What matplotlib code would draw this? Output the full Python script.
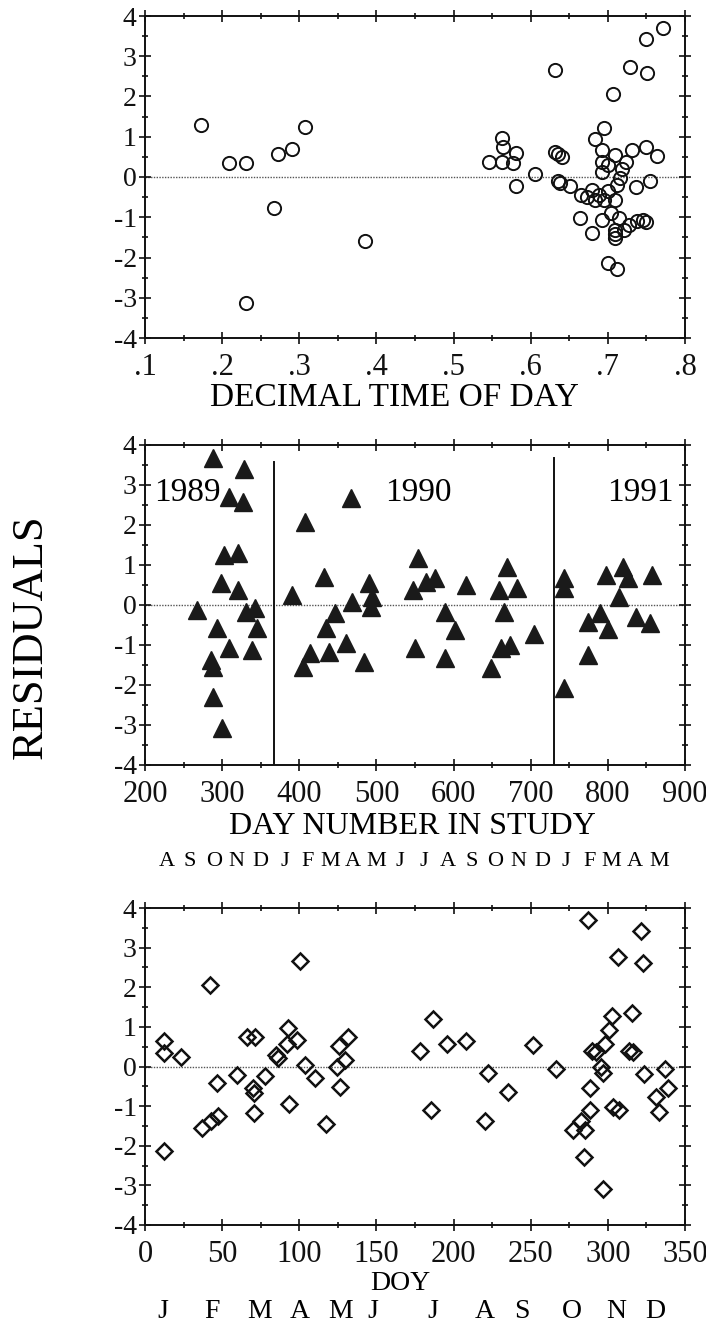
import matplotlib
matplotlib.use('Agg')
import matplotlib.pyplot as plt
from matplotlib.ticker import MultipleLocator

plt.rcParams['font.family'] = ['Liberation Serif', 'DejaVu Serif']
plt.rcParams['axes.unicode_minus'] = False

# ---- panel 1: residuals vs decimal time of day
time_x = [0.173, 0.209, 0.231, 0.231, 0.267, 0.273, 0.291, 0.307, 0.385,
          0.546, 0.563, 0.564, 0.563, 0.581, 0.577, 0.581, 0.605,
          0.631, 0.631, 0.635, 0.641, 0.635, 0.638, 0.651, 0.664, 0.665,
          0.673, 0.680, 0.683, 0.680, 0.683, 0.692, 0.692, 0.692, 0.692,
          0.695, 0.695, 0.700, 0.700, 0.704, 0.707, 0.709, 0.709, 0.709,
          0.709, 0.709, 0.712, 0.714, 0.716, 0.712, 0.718, 0.721, 0.724,
          0.728, 0.729, 0.731, 0.736, 0.738, 0.745, 0.750, 0.750, 0.750,
          0.751, 0.755, 0.764, 0.772, 0.700, 0.688]
time_res = [1.30, 0.36, 0.36, -3.14, -0.78, 0.57, 0.70, 1.25, -1.58,
            0.38, 0.96, 0.75, 0.38, 0.59, 0.36, -0.22, 0.07,
            2.66, 0.63, 0.57, 0.50, -0.10, -0.16, -0.22, -1.02, -0.45,
            -0.50, -0.32, -0.57, -1.39, 0.94, 0.67, 0.38, 0.12, -1.07,
            -0.57, 1.22, -2.14, -0.36, -0.90, 2.05, 0.55, -0.57, -1.32,
            -1.42, -1.52, -2.29, -1.03, -0.03, -0.20, 0.20, -1.32, 0.38,
            -1.20, 2.74, 0.67, -0.24, -1.10, -1.07, -1.12, 0.75, 3.42,
            2.59, -0.10, 0.53, 3.69, 0.30, -0.45]
time_ticks = [0.1, 0.2, 0.3, 0.4, 0.5, 0.6, 0.7, 0.8]
time_labels = ['.1', '.2', '.3', '.4', '.5', '.6', '.7', '.8']

# ---- panel 2: residuals vs day number in study
day_x = [288.7, 328, 309, 326.8, 301.9, 320.2, 298.3, 320.2, 267.8, 331,
         342, 345.5, 293, 309, 339, 285, 288.7, 288.7, 299.6,
         390, 407.5, 431.6, 466.5, 490.6, 494, 492.7, 468.7, 446, 435,
         460, 438, 414, 405.4, 484, 554, 547.5, 564.8, 575.8, 616.5, 589,
         602, 550.4, 589, 669, 658.8, 682.8, 665.4, 703.8, 661, 673.2, 648,
         743, 743, 743, 774, 774, 790, 800, 798, 820, 826, 815, 836, 855, 857]
day_res = [3.67, 3.39, 2.71, 2.58, 1.25, 1.29, 0.54, 0.38, -0.13, -0.17,
           -0.08, -0.58, -0.58, -1.08, -1.13, -1.38, -1.54, -2.29, -3.08,
           0.25, 2.08, 0.71, 2.67, 0.54, 0.21, -0.04, 0.08, -0.21, -0.58,
           -0.96, -1.17, -1.21, -1.54, -1.42, 1.17, 0.38, 0.58, 0.67, 0.50, -0.17,
           -0.63, -1.08, -1.33, 0.96, 0.38, 0.42, -0.17, -0.73, -1.08, -1.00, -1.58,
           0.67, 0.42, -2.08, -0.42, -1.25, -0.21, -0.61, 0.75, 0.96, 0.67, 0.21,
           -0.29, -0.46, 0.75]
year_breaks = [367, 730]
year_names = ['1989', '1990', '1991']
year_x = [255, 554, 842]
study_months = ['A', 'S', 'O', 'N', 'D', 'J', 'F', 'M', 'A', 'M', 'J',
                'J', 'A', 'S', 'O', 'N', 'D', 'J', 'F', 'M', 'A', 'M']
study_month_days = [228, 258, 289, 319, 350, 381, 411, 440, 470, 500, 531,
                    561, 593, 623, 654, 684, 715, 746, 776, 805, 835, 866]

# ---- panel 3: residuals vs day of year
doy_x = [12, 12, 23.4, 12.5, 42.1, 46.5, 36.7, 43, 47.4, 59.6, 66.2, 71.4,
         69.9, 70.6, 70.6, 78, 85.2, 86.3, 92.9, 91.8, 98.3, 93.5, 100.5,
         103.4, 110.3, 117.5, 125.6, 131.7, 124.5, 129.6, 126.3,
         178.5, 186.8, 185.3, 195.5, 208.2, 222.2, 235.3, 220.2, 251.2, 266.5,
         286.9, 306.3, 302.6, 300.8, 298.2, 289.5, 292.1, 295.6, 297.1, 288.4,
         288.4, 282.9, 285.1, 277.4, 284.6, 297.1, 303.6, 306.9, 315.7, 313.5,
         316.6, 321.5, 323.1, 323.4, 337.1, 338.8, 331, 333.4]
doy_res = [0.65, 0.35, 0.25, -2.13, 2.06, -0.41, -1.55, -1.37, -1.25, -0.21,
           0.74, 0.74, -0.55, -0.66, -1.17, -0.23, 0.29, 0.21, 0.96, 0.57, 0.67,
           -0.95, 2.67, 0.04, -0.30, -1.45, 0.52, 0.74, 0.00, 0.16, -0.51,
           0.40, 1.20, -1.10, 0.57, 0.65, -0.16, -0.64, -1.37, 0.53, -0.07,
           3.70, 2.76, 1.28, 0.92, 0.57, 0.40, 0.37, 0.00, -0.16, -0.55,
           -1.10, -1.37, -1.60, -1.59, -2.29, -3.10, -1.01, -1.10, 1.34, 0.40,
           0.37, 3.43, 2.62, -0.20, -0.07, -0.55, -0.76, -1.14]
doy_months = ['J', 'F', 'M', 'A', 'M', 'J', 'J', 'A', 'S', 'O', 'N', 'D']
doy_month_pos = [11.8, 43.2, 74, 100.3, 126.5, 147.5, 186.8, 220.2, 244.5,
                 276.6, 305.4, 331]

resid_ticks = [4, 3, 2, 1, 0, -1, -2, -3, -4]

W, H = 706, 1328
fig = plt.figure(figsize=(W / 100, H / 100), dpi=100)


def box(l, t, r, b):
    return fig.add_axes([l / W, 1 - b / H, (r - l) / W, (b - t) / H])


def style(ax, xminor, xpad):
    ax.set_ylim(-4, 4)
    ax.set_yticks(resid_ticks)
    ax.set_yticklabels([str(v) for v in resid_ticks])
    ax.yaxis.set_minor_locator(MultipleLocator(0.5))
    ax.xaxis.set_minor_locator(MultipleLocator(xminor))
    ax.tick_params(which='both', direction='inout', top=True, right=True,
                   width=1.2, colors='#111')
    ax.tick_params(which='major', length=8)
    ax.tick_params(which='minor', length=4)
    ax.tick_params(axis='y', labelsize=20, pad=2)
    ax.tick_params(axis='x', labelsize=22, pad=xpad)
    for s in ax.spines.values():
        s.set_linewidth(1.4)
        s.set_color('#111')
    ax.axhline(0, color='#555', lw=1.0, ls=(0, (1, 1)), zorder=1)


def ftext(x, y, s, size, **kw):
    fig.text(x / W, 1 - y / H, s, fontsize=size, ha='center', va='center', **kw)


L, R = 145, 685

# panel 1
ax1 = box(L, 16, R, 338)
ax1.plot(time_x, time_res, 'o', ms=9.5, mfc='none', mec='#111', mew=1.4)
ax1.set_xlim(0.1, 0.8)
ax1.set_xticks(time_ticks)
ax1.set_xticklabels(time_labels)
style(ax1, 0.05, 7)
ftext(394, 398, 'DECIMAL TIME OF DAY', 24)

# panel 2
ax2 = box(L, 445, R, 765)
ax2.plot(day_x, day_res, '^', ms=12.5, color='#1a1a1a', mec='#1a1a1a')
ax2.set_xlim(200, 900)
ax2.set_xticks(range(200, 901, 100))
style(ax2, 50, 6.5)
for xb, top in zip(year_breaks, [3.58, 3.67]):
    ax2.plot([xb, xb], [-4, top], color='#111', lw=1.4)
for name, xp in zip(year_names, year_x):
    ax2.text(xp, 2.8, name, fontsize=24, ha='center', va='center')
ftext(412, 826, 'DAY NUMBER IN STUDY', 23)
for m, d in zip(study_months, study_month_days):
    fig.text(ax2.transData.transform((d, 0))[0] / W, 1 - 861 / H, m,
             fontsize=16, ha='center', va='center')

# panel 3
ax3 = box(L, 908, R, 1225)
ax3.plot(doy_x, doy_res, 'D', ms=8, mfc='none', mec='#111', mew=1.8)
ax3.set_xlim(0, 350)
ax3.set_xticks(range(0, 351, 50))
style(ax3, 25, 7)
ftext(400, 1284, 'DOY', 20)
for m, d in zip(doy_months, doy_month_pos):
    fig.text(ax3.transData.transform((d, 0))[0] / W, 1 - 1312 / H, m,
             fontsize=20, ha='center', va='center')

ftext(31, 637, 'RESIDUALS', 32, rotation=90)

fig.savefig('out.png', dpi=100)
